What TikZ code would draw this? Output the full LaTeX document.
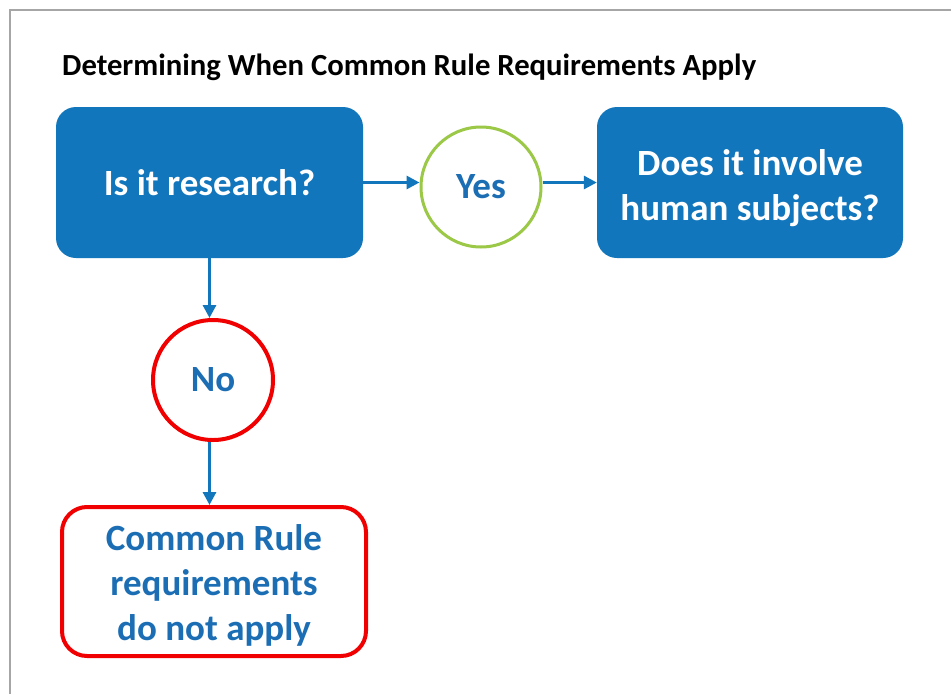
\documentclass[tikz,border=0pt]{standalone}
\usepackage{fontspec}
\setmainfont{Carlito}
\usetikzlibrary{arrows.meta}
\definecolor{boxblue}{RGB}{18,118,188}
\definecolor{txtblue}{RGB}{28,110,180}
\definecolor{yesgreen}{RGB}{155,200,70}
\definecolor{nored}{RGB}{240,0,0}
\definecolor{framegray}{RGB}{166,166,166}
\tikzset{
  qbox/.style={rectangle, rounded corners=20pt, fill=boxblue, text=white, font=\bfseries\fontsize{37}{45}\selectfont, align=center, inner sep=0pt},
  ansc/.style={circle, fill=white, text=txtblue, font=\bfseries\fontsize{37}{45}\selectfont, inner sep=0pt, minimum size=120pt},
  flow/.style={draw=boxblue, line width=3pt, -{Triangle[length=13pt,width=13pt]}},
}
\begin{document}
\begin{tikzpicture}[x=1pt,y=-1pt]
\useasboundingbox (0,0) rectangle (951,694);
\fill[white] (0,0) rectangle (951,694);
\draw[framegray, line width=2pt] (10,694) -- (10,10) -- (951,10);
\node[anchor=base west, font=\bfseries\fontsize{30.7}{36}\selectfont, inner sep=0pt] (title) at (62,75) {Determining When Common Rule Requirements Apply};
\node[qbox, minimum width=307pt, minimum height=151pt] (research) at (209.5,182.5) {Is it research?};
\node[qbox, minimum width=306pt, minimum height=151pt] (human) at (750,182.5) {\\[-7pt]Does it involve\\human subjects?};
\node[ansc, draw=yesgreen, line width=3pt] (yes) at (481,187) {Yes};
\node[ansc, draw=nored, line width=4pt] (no) at (213,380) {No};
\node[rectangle, rounded corners=25pt, draw=nored, line width=4pt, fill=white, text=txtblue, font=\bfseries\fontsize{37}{45}\selectfont, align=center, minimum width=304pt, minimum height=149pt, inner sep=0pt] (notapply) at (214,581.5) {\\[-12pt]Common Rule\\requirements\\do not apply};
\draw[flow] (research.east) -- (yes.west |- research.east);
\draw[flow] (yes.east |- research.east) -- (human.west);
\draw[flow] (research.south) -- (research.south |- no.north);
\draw[flow] (research.south |- no.south) -- (research.south |- notapply.north);
\end{tikzpicture}
\end{document}
